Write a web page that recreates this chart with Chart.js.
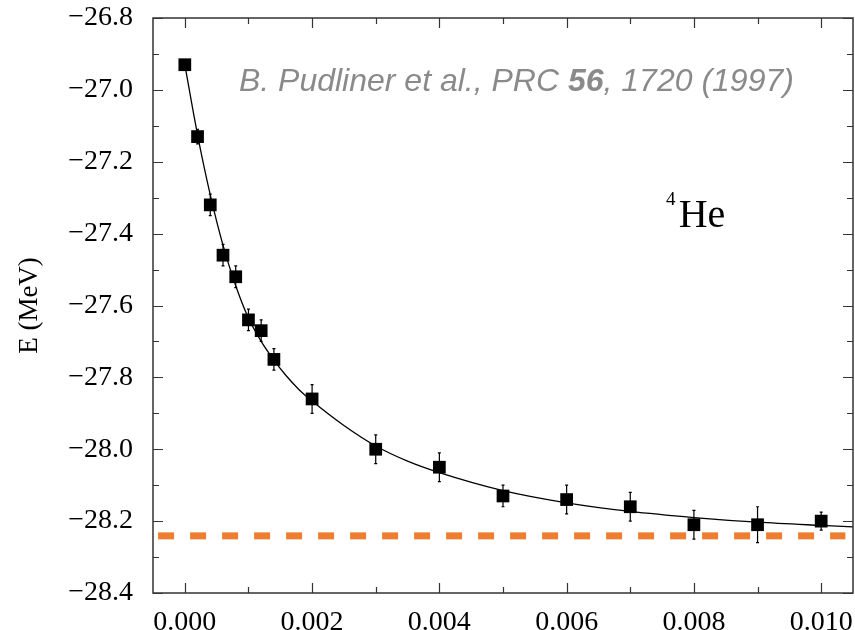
<!DOCTYPE html>
<html>
<head>
<meta charset="utf-8">
<title>4He energy vs time step</title>
<script src="https://cdn.jsdelivr.net/npm/chart.js@4"></script>
<style>
  html, body { margin: 0; padding: 0; background: #fff; }
  #wrap { width: 855px; height: 630px; }
</style>
</head>
<body>
<div id="wrap"><canvas id="chart" width="855" height="630"></canvas></div>
<script>
// GFMC energies vs. time step, with statistical errors
const tau = [0, 0.0002, 0.0004, 0.0006, 0.0008, 0.001, 0.0012, 0.0014, 0.002,
             0.003, 0.004, 0.005, 0.006, 0.007, 0.008, 0.009, 0.010];
const energy = [-26.93, -27.13, -27.32, -27.46, -27.52, -27.64, -27.67, -27.75, -27.86,
                -28.00, -28.05, -28.13, -28.14, -28.16, -28.21, -28.21, -28.20];
const energyErr = [0.01, 0.02, 0.03, 0.03, 0.03, 0.03, 0.03, 0.03, 0.04,
                   0.04, 0.04, 0.03, 0.04, 0.04, 0.04, 0.05, 0.025];

// fitted curve, sampled along its length
const fitTau = [0, 0.0002, 0.0004, 0.0006, 0.0008, 0.001, 0.0012, 0.0014, 0.0016,
                0.0018, 0.002, 0.0025, 0.003, 0.0035, 0.004, 0.005, 0.006, 0.007,
                0.008, 0.009, 0.010, 0.0105];
const fitE = [-26.93, -27.125, -27.292, -27.432, -27.545, -27.635, -27.70, -27.752, -27.797,
              -27.835, -27.866, -27.934, -27.991, -28.033, -28.065, -28.115, -28.149, -28.173,
              -28.19, -28.203, -28.212, -28.216];

// extrapolated value
const refTau = [-0.00042, 0.01038];
const refE = [-28.241, -28.241];

const xTicks = [0, 0.002, 0.004, 0.006, 0.008, 0.010];
const xMinor = [0.001, 0.003, 0.005, 0.007, 0.009];
const yTicks = [-28.4, -28.2, -28.0, -27.8, -27.6, -27.4, -27.2, -27.0, -26.8];
const yMinor = [-28.3, -28.1, -27.9, -27.7, -27.5, -27.3, -27.1, -26.9];

const pts = (xs, ys) => xs.map((x, i) => ({ x, y: ys[i] }));
const fmtE = v => (v < 0 ? "\u2212" : "") + Math.abs(v).toFixed(1);

const errorBars = {
  id: "errorBars",
  afterDatasetsDraw(chart) {
    const { ctx, scales: { x, y } } = chart;
    ctx.save();
    ctx.strokeStyle = "#000";
    ctx.lineWidth = 1.2;
    tau.forEach((t, i) => {
      const px = x.getPixelForValue(t);
      const top = y.getPixelForValue(energy[i] + energyErr[i]);
      const bot = y.getPixelForValue(energy[i] - energyErr[i]);
      ctx.beginPath();
      ctx.moveTo(px, top); ctx.lineTo(px, bot);
      ctx.moveTo(px - 1.5, top); ctx.lineTo(px + 1.5, top);
      ctx.moveTo(px - 1.5, bot); ctx.lineTo(px + 1.5, bot);
      ctx.stroke();
    });
    ctx.restore();
  }
};

const frame = {
  id: "frame",
  afterDraw(chart) {
    const { ctx, chartArea: a, scales: { x, y } } = chart;
    ctx.save();
    ctx.strokeStyle = "#333";
    ctx.lineWidth = 1.5;
    ctx.strokeRect(a.left, a.top, a.right - a.left, a.bottom - a.top);
    ctx.lineWidth = 1.2;
    ctx.beginPath();
    const xt = (v, len) => {
      const px = Math.round(x.getPixelForValue(v)) + 0.5;
      ctx.moveTo(px, a.bottom); ctx.lineTo(px, a.bottom - len);
      ctx.moveTo(px, a.top); ctx.lineTo(px, a.top + len);
    };
    const yt = (v, len) => {
      const py = Math.round(y.getPixelForValue(v)) + 0.5;
      ctx.moveTo(a.left, py); ctx.lineTo(a.left + len, py);
      ctx.moveTo(a.right, py); ctx.lineTo(a.right - len, py);
    };
    xTicks.forEach(v => xt(v, 10));
    xMinor.forEach(v => xt(v, 6));
    yTicks.forEach(v => yt(v, 10));
    yMinor.forEach(v => yt(v, 6));
    ctx.stroke();

    // citation and nucleus label
    ctx.textBaseline = "alphabetic";
    ctx.textAlign = "left";
    let cx = x.getPixelForValue(0.00085);
    const cy = y.getPixelForValue(-27.003);
    const parts = [
      ["italic 32px 'Liberation Sans', Arial, sans-serif", "B. Pudliner et al., PRC "],
      ["italic bold 32px 'Liberation Sans', Arial, sans-serif", "56"],
      ["italic 32px 'Liberation Sans', Arial, sans-serif", ", 1720 (1997)"]
    ];
    ctx.fillStyle = "#8a8a8a";
    parts.forEach(([font, s]) => {
      ctx.font = font;
      ctx.fillText(s, cx, cy);
      cx += ctx.measureText(s).width;
    });

    ctx.fillStyle = "#000";
    ctx.font = "19px 'Liberation Serif', 'Times New Roman', serif";
    ctx.fillText("4", x.getPixelForValue(0.00756), y.getPixelForValue(-27.32));
    ctx.font = "40px 'Liberation Serif', 'Times New Roman', serif";
    ctx.fillText("He", x.getPixelForValue(0.00776), y.getPixelForValue(-27.382));
    ctx.restore();
  }
};

const serif = { family: "'Liberation Serif', 'Times New Roman', serif", size: 28 };

new Chart(document.getElementById("chart"), {
  type: "line",
  data: {
    datasets: [
      {
        data: pts(tau, energy),
        showLine: false,
        pointStyle: "rect",
        pointRadius: 9,
        pointBackgroundColor: "#000",
        pointBorderWidth: 0,
        order: 0
      },
      {
        data: pts(fitTau, fitE),
        borderColor: "#000",
        borderWidth: 1.3,
        pointRadius: 0,
        cubicInterpolationMode: "monotone",
        order: 1
      },
      {
        data: pts(refTau, refE),
        borderColor: "#ed7d31",
        borderWidth: 7,
        borderDash: [16, 16],
        borderCapStyle: "butt",
        pointRadius: 0,
        order: 2
      }
    ]
  },
  options: {
    responsive: false,
    animation: false,
    layout: { autoPadding: false, padding: { top: 18, right: 2, left: 0, bottom: 0 } },
    plugins: { legend: { display: false }, tooltip: { enabled: false } },
    scales: {
      x: {
        type: "linear",
        min: -0.0005,
        max: 0.0105,
        grid: { display: false, drawTicks: false },
        border: { display: false },
        afterBuildTicks: s => { s.ticks = xTicks.map(value => ({ value })); },
        afterFit: s => {
          s.height = 37;
          s.paddingLeft = 0;
          s.paddingRight = 0;
        },
        ticks: {
          color: "#000",
          font: serif,
          padding: 13,
          maxRotation: 0,
          callback: v => v.toFixed(3)
        }
      },
      y: {
        min: -28.4,
        max: -26.8,
        grid: { display: false, drawTicks: false },
        border: { display: false },
        afterBuildTicks: s => { s.ticks = yTicks.map(value => ({ value })); },
        afterFit: s => {
          s.width = 153;
          s.paddingTop = 0;
          s.paddingBottom = 0;
        },
        ticks: {
          color: "#000",
          font: serif,
          padding: 20,
          callback: v => fmtE(Number(v))
        },
        title: {
          display: true,
          text: "E (MeV)",
          color: "#000",
          font: { family: serif.family, size: 27 },
          padding: { top: 14, bottom: 0 }
        }
      }
    }
  },
  plugins: [errorBars, frame]
});
</script>
</body>
</html>
